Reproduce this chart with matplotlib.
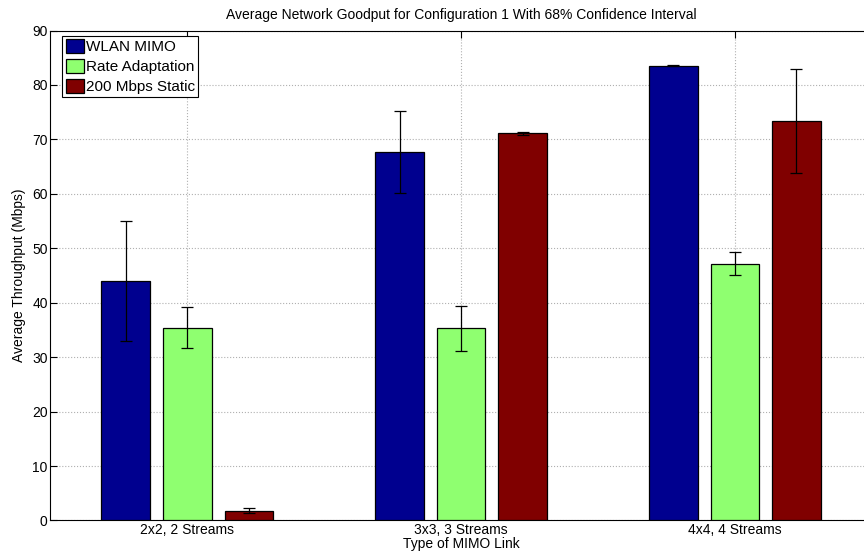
import numpy as np
import matplotlib
matplotlib.use("Agg")
from matplotlib import pyplot as plt

plt.rcParams['font.family'] = ['Liberation Sans', 'DejaVu Sans']
plt.rcParams['font.size'] = 10

# Goodput data (Mbps) per link type
links = ['2x2, 2 Streams', '3x3, 3 Streams', '4x4, 4 Streams']
series = ['WLAN MIMO', 'Rate Adaptation', '200 Mbps Static']
wlan_mimo = [44.0, 67.7, 83.5]
rate_adapt = [35.4, 35.3, 47.2]
static_200 = [1.8, 71.1, 73.4]
wlan_mimo_err = [11.0, 7.6, 0.1]
rate_adapt_err = [3.8, 4.1, 2.1]
static_200_err = [0.45, 0.2, 9.6]

colors = ['#00008F', '#8FFF70', '#800000']

fig = plt.figure(figsize=(8.64, 5.59), dpi=100)
ax = fig.add_axes([0.0584, 0.0689, 0.9506, 0.8765])

x = np.arange(1, len(links) + 1)
width = 0.178
offsets = [-0.225, 0.0, 0.225]
values = [wlan_mimo, rate_adapt, static_200]
errs = [wlan_mimo_err, rate_adapt_err, static_200_err]

for i in range(3):
    ax.bar(x + offsets[i], values[i], width, color=colors[i], edgecolor='black',
           linewidth=0.9, label=series[i], zorder=3)
    ax.errorbar(x + offsets[i], values[i], yerr=errs[i], fmt='none', ecolor='black',
                elinewidth=0.9, capsize=4, capthick=0.9, zorder=4)

ax.set_xlim(0.5, 3.5)
ax.set_ylim(0, 90)
ax.set_xticks(x)
ax.set_xticklabels(links)
ax.set_yticks(np.arange(0, 91, 10))
ax.tick_params(direction='in', top=True, right=True, length=5, pad=2)
ax.grid(True, linestyle=':', color='#b0b0b0', linewidth=0.8, zorder=0)
ax.set_axisbelow(True)

ax.set_title('Average Network Goodput for Configuration 1 With 68% Confidence Interval',
             fontsize=10, pad=8)
ax.set_xlabel('Type of MIMO Link', labelpad=0)
ax.set_ylabel('Average Throughput (Mbps)', labelpad=4)

leg = ax.legend(loc='upper left', bbox_to_anchor=(0.0146, 0.989), borderaxespad=0,
                fontsize=11, fancybox=False, framealpha=1, edgecolor='black',
                borderpad=0.2, handlelength=1.2, handleheight=1.05, handletextpad=0.15,
                labelspacing=0.3)
leg.get_frame().set_linewidth(0.8)

fig.savefig('out.png', dpi=100)
